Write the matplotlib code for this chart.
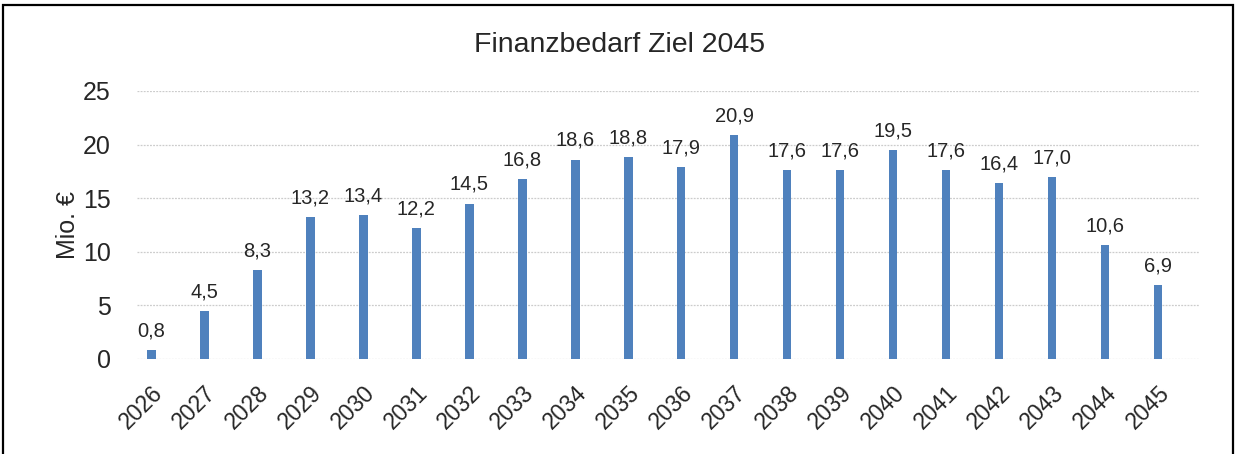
import matplotlib.pyplot as plt
from matplotlib.patches import Rectangle
from matplotlib.transforms import ScaledTranslation

plt.rcParams['font.family'] = ['Liberation Sans', 'DejaVu Sans']

years = [str(y) for y in range(2026, 2046)]
values = [0.8, 4.5, 8.3, 13.2, 13.4, 12.2, 14.5, 16.8, 18.6, 18.8,
          17.9, 20.9, 17.6, 17.6, 19.5, 17.6, 16.4, 17.0, 10.6, 6.9]
yticks = [0, 5, 10, 15, 20, 25]

fig = plt.figure(figsize=(12.39, 4.54), dpi=100)
ax = fig.add_axes([0.1106, 0.2093, 0.8571, 0.5903])

x = list(range(len(years)))
ax.bar(x, values, width=0.16, color='#4F81BD', zorder=3)

for xi, v in zip(x, values):
    ax.text(xi, v + 0.9, f'{v:.1f}'.replace('.', ','), ha='center', va='bottom',
            fontsize=14.5, color='#262626')

ax.set_xlim(-0.27, 19.77)
ax.set_ylim(0, 25)
ax.set_yticks(yticks)
ax.set_yticklabels([str(t) for t in yticks], fontsize=18, color='#262626')
ax.set_xticks(x)
ax.set_xticklabels(years, rotation=45, ha='right', va='top', rotation_mode='anchor',
                   fontsize=16.5, color='#262626')
offset = ScaledTranslation(2 / 100, 0, fig.dpi_scale_trans)
for lbl in ax.get_xticklabels():
    lbl.set_transform(lbl.get_transform() + offset)
ax.tick_params(axis='y', length=0, pad=19)
ax.tick_params(axis='x', length=0, pad=16)

ax.yaxis.grid(True, color='#CCCCCC', linestyle=(0, (1.5, 1)), linewidth=0.9, zorder=0)
for s in ax.spines.values():
    s.set_visible(False)

ax.set_ylabel('Mio. €', fontsize=18, color='#262626', labelpad=2)
fig.text(0.5, 0.9, 'Finanzbedarf Ziel 2045', ha='center', va='center',
         fontsize=20.5, color='#262626')

# outer frame
fig.patches.append(Rectangle((3 / 1239, -0.05), 1230 / 1239, 1.05 - 5 / 454,
                             transform=fig.transFigure, fill=False,
                             edgecolor='black', linewidth=1.6))

fig.savefig('out.png', dpi=100)
